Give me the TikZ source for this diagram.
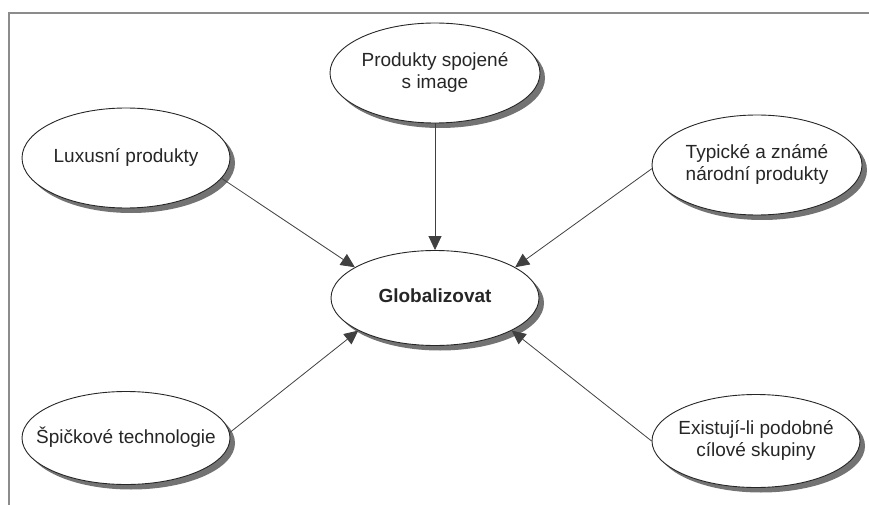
\documentclass[tikz,border=0pt]{standalone}
\usepackage{fontspec}
\setmainfont{Liberation Sans}
\usetikzlibrary{shapes.geometric,shadows,arrows.meta}
% text of zero width, so the ellipse keeps its given size
\newcommand{\btext}[1]{\makebox[0pt][c]{\begin{tabular}{@{}c@{}}#1\end{tabular}}}
\begin{document}
\begin{tikzpicture}[x=1pt,y=-1pt,
  bubble/.style={ellipse, draw=black!85, line width=0.9pt, fill=white,
    minimum width=208pt, minimum height=100pt, inner sep=0pt,
    font=\fontsize{19}{22}\selectfont, text=black!85,
    drop shadow={shadow xshift=5pt, shadow yshift=-5pt, fill=black!55, opacity=1}},
  link/.style={draw=black!75, line width=0.8pt, -{Triangle[length=14pt,width=13pt]}}]
\useasboundingbox (0,0) rectangle (869,505);
% open frame: left and top edges only
\draw[black!45, line width=1.5pt] (9,505) -- (9,13) -- (869,13);

\node[bubble] (lux) at (126,158) {\btext{Luxusní produkty}};
\node[bubble, minimum width=210pt] (prod) at (435,73) {\btext{Produkty spojené\\s image}};
\node[bubble, minimum width=210pt] (typ) at (757,165) {\btext{Typické a známé\\národní produkty}};
\node[bubble, minimum height=95pt, font=\fontsize{19}{22}\selectfont\bfseries] (glob) at (435,298) {\btext{Globalizovat}};
\node[bubble, minimum height=93pt] (spic) at (126,438) {\btext{Špičkové technologie}};
\node[bubble, minimum height=93pt] (exist) at (756,441) {\btext{Existují-li podobné\\cílové skupiny}};

\draw[link] (lux.-12) -- (glob.159);
\draw[link] (prod.south) -- (glob.north);
\draw[link] (typ.182) -- (glob.21);
\draw[link] (spic.3) -- (glob.203);
\draw[link] (exist.180) -- (glob.-23);
\end{tikzpicture}
\end{document}
